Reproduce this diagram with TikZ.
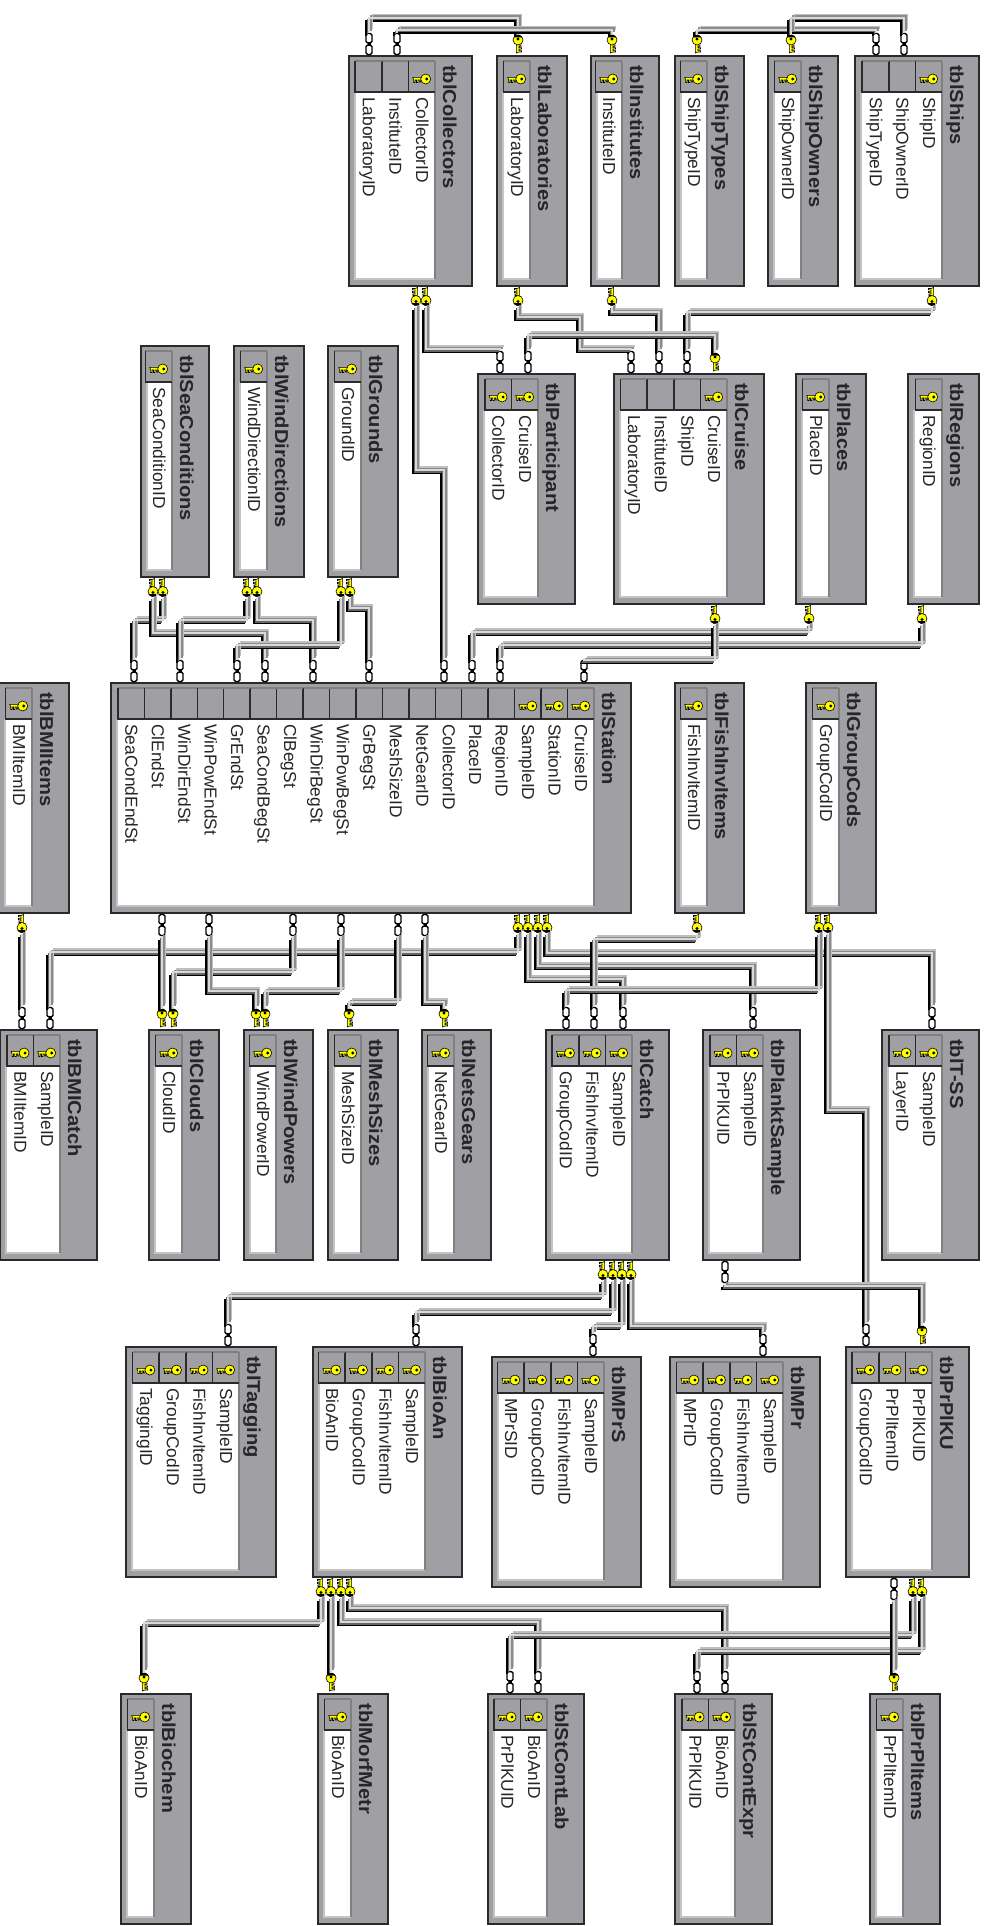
\documentclass[tikz,border=0pt]{standalone}
\usepackage{fontspec}
\setmainfont{Liberation Sans}
\newfontfamily\titlefont[FakeStretch=1.08]{Liberation Sans}
\usetikzlibrary{calc}
\definecolor{ink}{HTML}{2A2A2A}
\definecolor{panel}{HTML}{A0A0A4}
\definecolor{cellhi}{HTML}{808080}
\definecolor{bodyedge}{HTML}{C4C4C4}
\definecolor{keyyellow}{HTML}{FFFF00}

\newcommand{\keyglyph}[2]{%
  \begin{scope}[shift={(#1)}, rotate=#2, x=0.75pt, y=0.75pt, draw=black, fill=keyyellow, line width=0.45pt]
    \filldraw (-8,-1) -- (-8,-3.5) -- (-6.6,-3.5) -- (-6.6,-1) -- (-5.2,-1) -- (-5.2,-3.5) -- (-3.8,-3.5) -- (-3.8,-1) -- (-2.4,-1) -- (-2.4,-3) -- (-1,-3) -- (-1,-1) -- (0,-1) -- (0,1.6) -- (-9,1.6) -- cycle;
    \filldraw (4,0) circle[radius=5];
    \fill[black] (5,0) circle[radius=1.6];
  \end{scope}
}
\newcommand{\keycap}[2]{%
  \begin{scope}[shift={(#1)}, rotate=#2, x=0.75pt, y=0.75pt]
    \fill[black] (6.5,-4.8) arc[start angle=-62, end angle=62, radius=5.4] -- cycle;
  \end{scope}
}
\newcommand{\chainglyph}[1]{%
  \begin{scope}[shift={(#1)}, x=0.75pt, y=0.75pt, draw=black, fill=white, line width=1.1pt]
    \filldraw[rounded corners=1.2pt] (-3,-10.5) rectangle (3,-1);
    \filldraw[rounded corners=1.2pt] (-3,1) rectangle (3,10.5);
    \fill[black] (-1.5,-2) rectangle (1.5,2);
  \end{scope}
}
\newcommand{\dbtable}[7][26.6]{%
  \node[tblbox, minimum width={(#5-#3)*0.75pt}, minimum height={(#6-#4)*0.75pt}] (#2) at ({(#3+#5)/2},{(#4+#6)/2}) {};
  \node[tbltitle] (#2-title) at (#5-29,#4+9) {#2};
  \fill[white] (#3+6,#4+36) rectangle (#5-37,#6-7);
  \draw[bodyline] (#3+6,#4+36) -- (#3+6,#6-7) -- (#5-37,#6-7);
  \draw[hiline] (#5-37,#4+5) -- (#5-37,#6-7);
  \foreach \fld/\haskey [count=\i] in {#7} {
    \draw[hiline] ({#5-37-\i*#1},#4+5) -- ({#5-37-(\i-1)*#1},#4+5);
    \draw[cellline] ({#5-37-\i*#1},#4+5) -- ({#5-37-\i*#1},#4+36) -- ({#5-37-(\i-1)*#1},#4+36);
    \node[tblfield] (#2-\i) at ({#5-37-(\i-1)*#1-19},#4+41) {\fld};
    \ifnum\haskey=1 \keyglyph{{#5-37-(\i-0.5)*#1},#4+23}{0} \fi
  }
}
\newcommand{\keytop}[3]{\node[keymark] (#1) at (#2,#3-12) {}; \keyglyph{#1}{90} \keycap{#1}{90}}
\newcommand{\keybot}[3]{\node[keymark] (#1) at (#2,#3+10.5) {}; \keyglyph{#1}{-90} \keycap{#1}{-90}}
\newcommand{\chaintop}[3]{\node[chainmark] (#1) at (#2,#3-12) {}; \chainglyph{#1}}
\newcommand{\chainbot}[3]{\node[chainmark] (#1) at (#2,#3+12) {}; \chainglyph{#1}}
\newcommand{\dblink}[3]{\draw[conn] (#1) -- (#1 |- 0,#3) -- (#2 |- 0,#3) -- (#2);}

\begin{document}
\begin{tikzpicture}[
  x=0.75pt, y=-0.75pt,
  tblbox/.style={draw=ink, line width=1.1pt, fill=panel, inner sep=0pt},
  tbltitle/.style={rotate=-90, anchor=base west, inner sep=0pt, text=black!85, font=\titlefont\bfseries\fontsize{14pt}{16pt}\selectfont},
  tblfield/.style={rotate=-90, anchor=base west, inner sep=0pt, text=black!85, font=\fontsize{13pt}{15pt}\selectfont},
  bodyline/.style={draw=bodyedge, line width=1.1pt},
  hiline/.style={draw=cellhi, line width=0.9pt},
  cellline/.style={draw=ink, line width=1.1pt},
  keymark/.style={inner sep=0pt, minimum width=6pt, minimum height=15pt},
  chainmark/.style={inner sep=0pt, minimum width=6pt, minimum height=16.5pt},
  conn/.style={line join=miter, draw=black!15, line width=1.25pt,
    preaction={draw=black, line width=1.25pt, transform canvas={shift={(-2.5pt,-2.5pt)}}},
    preaction={draw=black!60, line width=1.25pt, transform canvas={shift={(-1.25pt,-1.25pt)}}},
    preaction={draw=black!45, line width=1.25pt, transform canvas={shift={(1.25pt,1.25pt)}}},
    preaction={draw=black!25, line width=1.25pt, transform canvas={shift={(2.5pt,2.5pt)}}}}
]
  \useasboundingbox (0,0) rectangle (988,1926);

  \dbtable{tblCollectors}{349}{56}{472}{286}{CollectorID/1,InstituteID/0,LaboratoryID/0}
  \dbtable{tblLaboratories}{497}{56}{567}{286}{LaboratoryID/1}
  \dbtable{tblInstitutes}{591}{56}{659}{286}{InstituteID/1}
  \dbtable{tblShipTypes}{675}{56}{744}{286}{ShipTypeID/1}
  \dbtable{tblShipOwners}{768}{56}{838}{286}{ShipOwnerID/1}
  \dbtable{tblShips}{855}{56}{979}{286}{ShipID/1,ShipOwnerID/0,ShipTypeID/0}

  \dbtable{tblSeaConditions}{141}{346}{209}{577}{SeaConditionID/1}
  \dbtable{tblWindDirections}{234}{346}{304}{577}{WindDirectionID/1}
  \dbtable{tblGrounds}{328}{346}{398}{577}{GroundID/1}
  \dbtable{tblParticipant}{478}{374}{575}{604}{CruiseID/1,CollectorID/1}
  \dbtable{tblCruise}{614}{374}{764}{604}{CruiseID/1,ShipID/0,InstituteID/0,LaboratoryID/0}
  \dbtable{tblPlaces}{796}{374}{866}{604}{PlaceID/1}
  \dbtable{tblRegions}{908}{374}{979}{604}{RegionID/1}

  \dbtable{tblBMIItems}{-1}{683}{69}{913}{BMIItemID/1}
  \dbtable[26.45]{tblStation}{111}{683}{631}{913}{CruiseID/1,StationID/1,SampleID/1,RegionID/0,PlaceID/0,CollectorID/0,NetGearID/0,MeshSizeID/0,GrBegSt/0,WinPowBegSt/0,WinDirBegSt/0,ClBegSt/0,SeaCondBegSt/0,GrEndSt/0,WinPowEndSt/0,WinDirEndSt/0,ClEndSt/0,SeaCondEndSt/0}
  \dbtable{tblFishInvItems}{675}{683}{744}{913}{FishInvItemID/1}
  \dbtable{tblGroupCods}{806}{683}{876}{913}{GroupCodID/1}

  \dbtable{tblBMICatch}{0}{1030}{97}{1260}{SampleID/1,BMIItemID/1}
  \dbtable{tblClouds}{149}{1030}{219}{1260}{CloudID/1}
  \dbtable{tblWindPowers}{244}{1030}{313}{1260}{WindPowerID/1}
  \dbtable{tblMeshSizes}{328}{1030}{398}{1260}{MeshSizeID/1}
  \dbtable{tblNetsGears}{422}{1030}{491}{1260}{NetGearID/1}
  \dbtable{tblCatch}{546}{1030}{669}{1260}{SampleID/1,FishInvItemID/1,GroupCodID/1}
  \dbtable{tblPlanktSample}{703}{1030}{800}{1260}{SampleID/1,PrPlKUID/1}
  \dbtable{tblT-SS}{882}{1030}{979}{1260}{SampleID/1,LayerID/1}

  \dbtable{tblTagging}{126}{1347}{276}{1577}{SampleID/1,FishInvItemID/1,GroupCodID/1,TaggingID/1}
  \dbtable{tblBioAn}{313}{1347}{462}{1577}{SampleID/1,FishInvItemID/1,GroupCodID/1,BioAnID/1}
  \dbtable{tblMPrS}{492}{1357}{641}{1587}{SampleID/1,FishInvItemID/1,GroupCodID/1,MPrSID/1}
  \dbtable{tblMPr}{670}{1357}{820}{1587}{SampleID/1,FishInvItemID/1,GroupCodID/1,MPrID/1}
  \dbtable{tblPrPlKU}{846}{1347}{969}{1577}{PrPlKUID/1,PrPlItemID/1,GroupCodID/1}

  \dbtable{tblBiochem}{121}{1694}{191}{1924}{BioAnID/1}
  \dbtable{tblMorfMetr}{318}{1694}{388}{1924}{BioAnID/1}
  \dbtable{tblStContLab}{488}{1694}{584}{1924}{BioAnID/1,PrPlKUID/1}
  \dbtable{tblStContExpr}{675}{1694}{772}{1924}{BioAnID/1,PrPlKUID/1}
  \dbtable{tblPrPlItems}{870}{1694}{940}{1924}{PrPlItemID/1}

  \chaintop{collLab}{369}{56}
  \chaintop{collInst}{397}{56}
  \keytop{labTop}{518}{56}
  \keytop{instTop}{612}{56}
  \keytop{typeTop}{697}{56}
  \keytop{ownerTop}{791}{56}
  \chaintop{shipType}{876}{56}
  \chaintop{shipOwner}{904}{56}
  \dblink{collLab.north}{labTop.north}{18}
  \dblink{collInst.north}{instTop.north}{30}
  \dblink{typeTop.north}{shipType.north}{30}
  \dblink{ownerTop.north}{shipOwner.north}{18}

  \keybot{collA}{416}{286}
  \keybot{collB}{426}{286}
  \keybot{labBot}{518}{286}
  \keybot{instBot}{612}{286}
  \keybot{shipBot}{932}{286}
  \chaintop{partColl}{500}{374}
  \chaintop{partCruise}{528}{374}
  \chaintop{cruiseLab}{631}{374}
  \chaintop{cruiseInst}{659}{374}
  \chaintop{cruiseShip}{687}{374}
  \keytop{cruiseTop}{715}{374}
  \draw[conn] (labBot.south) -- (labBot.south |- 0,317) -- (580,317) -- (580,349) -- (cruiseLab.north |- 0,349) -- (cruiseLab.north);
  \dblink{instBot.south}{cruiseInst.north}{312}
  \dblink{shipBot.south}{cruiseShip.north}{312}
  \dblink{cruiseTop.north}{partCruise.north}{335}
  \dblink{collB.south}{partColl.north}{349}

  \keybot{seaA}{153}{577}
  \keybot{seaB}{163}{577}
  \keybot{windA}{247}{577}
  \keybot{windB}{257}{577}
  \keybot{grA}{341}{577}
  \keybot{grB}{350}{577}
  \keybot{cruiseBot}{715}{604}
  \keybot{placeBot}{809}{604}
  \keybot{regionBot}{922}{604}
  \chaintop{stSeaEnd}{134}{683}
  \chaintop{stWindEnd}{180}{683}
  \chaintop{stGrEnd}{237}{683}
  \chaintop{stSeaBeg}{265}{683}
  \chaintop{stWindBeg}{313}{683}
  \chaintop{stGrBeg}{369}{683}
  \chaintop{stColl}{444}{683}
  \chaintop{stPlace}{472}{683}
  \chaintop{stRegion}{500}{683}
  \chaintop{stCruise}{584}{683}
  \dblink{seaB.south}{stSeaEnd.north}{620}
  \dblink{seaA.south}{stSeaBeg.north}{633}
  \dblink{windA.south}{stWindEnd.north}{620}
  \dblink{windB.south}{stWindBeg.north}{620}
  \dblink{grA.south}{stGrEnd.north}{645}
  \dblink{grB.south}{stGrBeg.north}{608}
  \dblink{collA.south}{stColl.north}{470}
  \dblink{placeBot.south}{stPlace.north}{632}
  \dblink{regionBot.south}{stRegion.north}{645}
  \dblink{cruiseBot.south}{stCruise.north}{660}

  \keybot{bmiBot}{22}{913}
  \chainbot{stClEnd}{162}{913}
  \chainbot{stPowEnd}{209}{913}
  \chainbot{stClBeg}{293}{913}
  \chainbot{stPowBeg}{341}{913}
  \chainbot{stMesh}{398}{913}
  \chainbot{stGear}{425}{913}
  \keybot{stA}{518}{913}
  \keybot{stB}{528}{913}
  \keybot{stC}{538}{913}
  \keybot{stD}{547}{913}
  \keybot{fishBot}{697}{913}
  \keybot{codA}{819}{913}
  \keybot{codB}{828}{913}
  \chaintop{catchBmi}{22}{1030}
  \chaintop{catchBmiS}{50}{1030}
  \keytop{cloudA}{162}{1030}
  \keytop{cloudB}{173}{1030}
  \keytop{powerA}{256}{1030}
  \keytop{powerB}{265}{1030}
  \keytop{meshTop}{349}{1030}
  \keytop{gearTop}{444}{1030}
  \chaintop{catchCod}{566}{1030}
  \chaintop{catchFish}{594}{1030}
  \chaintop{catchSample}{623}{1030}
  \chaintop{planktSample}{753}{1030}
  \chaintop{ssSample}{932}{1030}
  \draw[conn] (bmiBot.south) -- (catchBmi.north);
  \dblink{stA.south}{catchBmiS.north}{952}
  \draw[conn] (stClEnd.south) -- (cloudA.north);
  \dblink{stClBeg.south}{cloudB.north}{972}
  \dblink{stPowEnd.south}{powerA.north}{991}
  \dblink{stPowBeg.south}{powerB.north}{991}
  \dblink{stMesh.south}{meshTop.north}{1002}
  \dblink{stGear.south}{gearTop.north}{1002}
  \dblink{stD.south}{ssSample.north}{953}
  \dblink{stC.south}{planktSample.north}{966}
  \dblink{stB.south}{catchSample.north}{979}
  \dblink{fishBot.south}{catchFish.north}{939}
  \dblink{codA.south}{catchCod.north}{990}

  \keybot{catchA}{603}{1260}
  \keybot{catchB}{613}{1260}
  \keybot{catchC}{622}{1260}
  \keybot{catchD}{631}{1260}
  \chainbot{planktKu}{725}{1260}
  \chaintop{tagSample}{228}{1347}
  \chaintop{bioSample}{416}{1347}
  \chaintop{mprsSample}{593}{1357}
  \chaintop{mprSample}{763}{1357}
  \chaintop{kuCod}{866}{1347}
  \keytop{kuTop}{922}{1347}
  \dblink{catchA.south}{tagSample.north}{1296}
  \dblink{catchB.south}{bioSample.north}{1312}
  \dblink{catchC.south}{mprsSample.north}{1326}
  \dblink{catchD.south}{mprSample.north}{1326}
  \dblink{codB.south}{kuCod.north}{1110}
  \dblink{planktKu.south}{kuTop.north}{1286}

  \keybot{bioA}{321}{1577}
  \keybot{bioB}{331}{1577}
  \keybot{bioC}{341}{1577}
  \keybot{bioD}{350}{1577}
  \chainbot{kuItem}{894}{1577}
  \keybot{kuA}{913}{1577}
  \keybot{kuB}{922}{1577}
  \keytop{biochemTop}{144}{1694}
  \keytop{morfTop}{331}{1694}
  \chaintop{labKu}{510}{1694}
  \chaintop{labBio}{538}{1694}
  \chaintop{exprKu}{697}{1694}
  \chaintop{exprBio}{725}{1694}
  \keytop{itemTop}{894}{1694}
  \dblink{bioA.south}{biochemTop.north}{1623}
  \draw[conn] (bioB.south) -- (morfTop.north);
  \dblink{bioC.south}{labBio.north}{1622}
  \dblink{bioD.south}{exprBio.north}{1608}
  \dblink{kuA.south}{labKu.north}{1635}
  \dblink{kuB.south}{exprKu.north}{1651}
  \draw[conn] (kuItem.south) -- (itemTop.north);
\end{tikzpicture}
\end{document}
